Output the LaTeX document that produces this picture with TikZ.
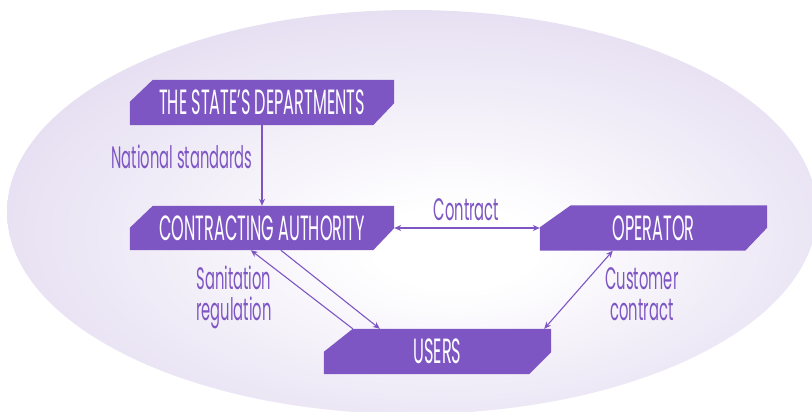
\documentclass[tikz,border=0pt]{standalone}
\usepackage{fontspec}
\newfontfamily\boxfont[FakeStretch=0.46]{Poppins}
\newfontfamily\lblfont[FakeStretch=0.475]{Poppins}
\usetikzlibrary{calc,backgrounds,arrows.meta}
\definecolor{boxc}{HTML}{7E56C4}
\definecolor{lavE}{HTML}{D6CBEA}
\definecolor{lavM}{HTML}{E6DFF2}
\pgfdeclareradialshading{ellshade}{\pgfpoint{3bp}{-5bp}}{color(0bp)=(white); color(5bp)=(white); color(28bp)=(lavM); color(50bp)=(lavE)}
\newcommand\chamfill[5]{%
  \fill[boxfill] ($(#1.north west)+(#2,0)$) -- (#1.north east) -- ($(#1.south east)+(0,-#5)$) -- ($(#1.south east)+(-#4,0)$) -- (#1.south west) -- ($(#1.north west)+(0,#3)$) -- cycle;}
\begin{document}
\begin{tikzpicture}[x=1pt,y=-1pt,
  boxnode/.style={rectangle, inner sep=0pt, text=white, font=\boxfont\fontsize{35}{35}\selectfont},
  boxfill/.style={fill=boxc},
  lbl/.style={text=boxc, font=\lblfont\fontsize{31}{31}\selectfont, inner sep=0pt, align=center, anchor=base},
  conn/.style={draw=boxc, line width=1.1pt},
  >={Stealth[length=7pt,width=6pt]}]
\useasboundingbox (0,0) rectangle (812,412);
% boxes
\node[boxnode, minimum width=264pt, minimum height=45pt] (sd) at (262,102.5) {THE STATE’S DEPARTMENTS};
\node[boxnode, minimum width=264pt, minimum height=44pt] (ca) at (262,228) {CONTRACTING AUTHORITY};
\node[boxnode, minimum width=227pt, minimum height=45pt] (op) at (653.5,228) {OPERATOR};
\node[boxnode, minimum width=227pt, minimum height=45pt] (us) at (437.5,351.5) {USERS};
% labels
\node[lbl] (lnat) at (182,168) {National standards};
\node[lbl] (lcon) at (466.5,220) {Contract};
\node[lbl] (lsan) at (234,320) {Sanitation\\regulation};
\node[lbl] (lcus) at (642,320.5) {Customer\\contract};
% background
\begin{scope}[on background layer]
  \clip (0,0) rectangle (812,412);
  \path[shading=ellshade] (412,212) ellipse [x radius=405pt, y radius=202pt];
  \chamfill{sd}{23}{22}{21}{22}
  \chamfill{ca}{23}{22}{21}{22}
  \chamfill{op}{31}{22}{22}{23}
  \chamfill{us}{29}{23}{22}{22}
\end{scope}
% connectors
\draw[conn,->] (sd.south) -- (ca.north);
\draw[conn,<->] (ca.east) -- (op.west);
\draw[conn,->] ($(ca.south west)+(151,0)$) -- ($(us.north west)+(56,0)$);
\draw[conn,->] ($(us.north west)+(29,0)$) -- ($(ca.south west)+(121,0)$);
\draw[conn,<->] ($(op.south west)+(73,0)$) -- ($(us.north east)+(-7,0)$);
\end{tikzpicture}
\end{document}
